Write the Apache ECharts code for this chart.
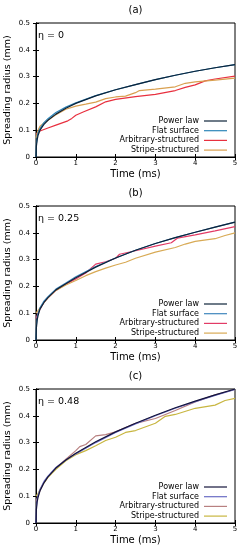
<!DOCTYPE html>
<html><head><meta charset="utf-8">
<script src="https://cdn.jsdelivr.net/npm/echarts@6/dist/echarts.min.js"></script>
<style>html,body{margin:0;padding:0;background:#fff;}.c{width:242px;height:183px;}</style>
</head><body>
<div id="a" class="c"></div><div id="b" class="c"></div><div id="c" class="c"></div>
<script>
// ---- data ----
var seriesNames = ['Power law','Flat surface','Arbitrary-structured','Stripe-structured'];
var xTicks = [0,1,2,3,4,5];
var yTicks = [0,0.1,0.2,0.3,0.4,0.5];

var tFit = [0,0.01,0.03,0.05,0.1,0.2,0.3,0.5,0.75,1,1.5,2,2.5,3,3.5,4,4.5,5];

// panel (a) eta = 0
var powerA = [0,0.04,0.065,0.08,0.1,0.122,0.137,0.16,0.182,0.2,0.228,0.251,0.27,0.289,0.305,0.32,0.333,0.345];
var flatA  = [0,0.05,0.075,0.09,0.106,0.128,0.143,0.166,0.186,0.202,0.229,0.251,0.27,0.289,0.305,0.32,0.333,0.345];
var arbTA  = [0,0.1,0.3,0.5,0.8,0.9,1,1.2,1.5,1.75,2,2.5,3,3.5,3.75,4,4.25,4.5,5];
var arbA   = [0.085,0.097,0.108,0.119,0.135,0.144,0.156,0.169,0.187,0.206,0.215,0.225,0.234,0.248,0.26,0.269,0.284,0.291,0.302];
var strTA  = [0,0.05,0.1,0.2,0.3,0.5,0.75,1,1.25,1.5,1.75,2,2.25,2.5,2.6,3,3.5,3.75,4,4.5,5];
var strA   = [0.07,0.1,0.115,0.127,0.137,0.158,0.178,0.19,0.197,0.205,0.218,0.224,0.227,0.24,0.248,0.253,0.262,0.275,0.28,0.287,0.294];

// panel (b) eta = 0.25
var powerB = [0,0.045,0.075,0.09,0.115,0.14,0.158,0.187,0.21,0.232,0.272,0.306,0.335,0.36,0.382,0.402,0.421,0.44];
var flatB  = [0,0.055,0.085,0.098,0.12,0.145,0.162,0.19,0.213,0.236,0.274,0.306,0.335,0.36,0.382,0.402,0.421,0.44];
var arbTB  = [0,0.05,0.1,0.2,0.3,0.5,0.75,1,1.25,1.5,1.75,2,2.1,2.5,3,3.4,3.55,4,4.5,5];
var arbB   = [0.08,0.1,0.115,0.14,0.157,0.185,0.208,0.228,0.25,0.283,0.292,0.305,0.32,0.333,0.35,0.363,0.38,0.392,0.407,0.423];
var strTB  = [0,0.05,0.1,0.2,0.3,0.5,0.75,1,1.25,1.5,1.75,2,2.25,2.5,3,3.5,3.75,4,4.5,4.75,5];
var strB   = [0.1,0.11,0.12,0.14,0.157,0.185,0.205,0.222,0.24,0.255,0.268,0.28,0.29,0.305,0.328,0.345,0.358,0.368,0.378,0.39,0.4];

// panel (c) eta = 0.48
var powerC = [0,0.05,0.08,0.095,0.12,0.15,0.172,0.205,0.235,0.26,0.303,0.34,0.372,0.402,0.43,0.455,0.478,0.5];
var flatC  = [0,0.06,0.09,0.103,0.125,0.155,0.175,0.207,0.235,0.258,0.3,0.338,0.37,0.4,0.428,0.453,0.476,0.498];
var arbTC  = [0,0.05,0.1,0.2,0.3,0.5,0.75,1,1.1,1.25,1.5,1.75,2,2.5,3,3.5,4,4.5,5];
var arbC   = [0.08,0.1,0.12,0.15,0.172,0.205,0.238,0.27,0.285,0.293,0.325,0.33,0.34,0.372,0.39,0.42,0.452,0.478,0.498];
var strTC  = [0,0.05,0.1,0.2,0.3,0.5,0.75,1,1.25,1.5,1.75,2,2.25,2.5,3,3.25,3.5,4,4.5,4.75,5];
var strC   = [0.1,0.11,0.125,0.15,0.17,0.2,0.232,0.255,0.27,0.288,0.308,0.32,0.338,0.345,0.372,0.398,0.405,0.428,0.44,0.457,0.465];

var panels = [
  {id:'a', title:'(a)', eta:'η = 0', colors:['#0d2238','#2d86b8','#e8303f','#d9a050'],
   data:[[tFit,powerA],[tFit,flatA],[arbTA,arbA],[strTA,strA]]},
  {id:'b', title:'(b)', eta:'η = 0.25', colors:['#0d2238','#3f86bd','#e23b66','#d8aa55'],
   data:[[tFit,powerB],[tFit,flatB],[arbTB,arbB],[strTB,strB]]},
  {id:'c', title:'(c)', eta:'η = 0.48', colors:['#14143a','#6a6cc4','#b88080','#c8b640'],
   data:[[tFit,powerC],[tFit,flatC],[arbTC,arbC],[strTC,strC]]}
];

function zip(t, v){ return t.map(function(x,i){ return [x, v[i]]; }); }
var FONT = 'DejaVu Sans';

panels.forEach(function(p){
  var chart = echarts.init(document.getElementById(p.id), null, {renderer:'canvas'});
  var grid = {left:36, right:7, top:23, height:134, containLabel:false, outerBoundsMode:'none',
              show:true, borderColor:'#000', borderWidth:1, backgroundColor:'transparent'};
  var tick = {show:true, inside:true, length:3, lineStyle:{color:'#000', width:1}};
  var series = seriesNames.map(function(n, i){
    return {
      name:n, type:'line', xAxisIndex:0, yAxisIndex:0,
      data: zip(p.data[i][0], p.data[i][1]),
      showSymbol:false, symbol:'none', smooth:false,
      z: i === 0 ? 5 : (i === 1 ? 4 : 3),
      lineStyle:{color:p.colors[i], width:1.2},
      itemStyle:{color:p.colors[i]},
      animation:false
    };
  });
  chart.setOption({
    animation:false,
    textStyle:{fontFamily:FONT},
    grid: grid,
    graphic:[
      {type:'text', x:135.5, y:5, style:{text:p.title, font:'10px "DejaVu Sans"', fill:'#000', textAlign:'center'}},
      {type:'text', x:38, y:31, style:{text:p.eta, font:'9.5px "DejaVu Sans"', fill:'#000'}}
    ],
    legend:{
      orient:'vertical', align:'right', right:15, top:117, padding:0,
      itemWidth:23, itemHeight:8, itemGap:1.7,
      icon:'path://M0,0L23,0L23,1.2L0,1.2Z',
      textStyle:{fontFamily:FONT, fontSize:8, color:'#000'},
      data: seriesNames,
      selectedMode:false
    },
    xAxis:[
      {type:'value', min:0, max:5, interval:1, position:'bottom',
       axisLine:{show:true, lineStyle:{color:'#000'}}, axisTick:tick, splitLine:{show:false},
       axisLabel:{fontFamily:FONT, fontSize:7, color:'#000', margin:3,
         formatter:function(v){ return xTicks.indexOf(v) >= 0 ? String(v) : ''; }},
       name:'Time (ms)', nameLocation:'middle', nameGap:12, nameMoveOverlap:false,
       nameTextStyle:{fontFamily:FONT, fontSize:10, color:'#000', verticalAlign:'top'}},
      {type:'value', min:0, max:5, interval:1, position:'top',
       axisLine:{show:true, lineStyle:{color:'#000'}}, axisTick:tick, splitLine:{show:false},
       axisLabel:{show:false}}
    ],
    yAxis:[
      {type:'value', min:0, max:0.5, interval:0.1, position:'left',
       axisLine:{show:true, lineStyle:{color:'#000'}}, axisTick:tick, splitLine:{show:false},
       axisLabel:{fontFamily:FONT, fontSize:7, color:'#000', margin:6,
         formatter:function(v){ var r = Math.round(v*10)/10; return yTicks.indexOf(r) >= 0 ? String(r) : ''; }},
       name:'Spreading radius (mm)', nameLocation:'middle', nameGap:28, nameRotate:90, nameMoveOverlap:false,
       nameTextStyle:{fontFamily:FONT, fontSize:9.5, color:'#000', verticalAlign:'middle', align:'center'}},
      {type:'value', min:0, max:0.5, interval:0.1, position:'right',
       axisLine:{show:true, lineStyle:{color:'#000'}}, axisTick:tick, splitLine:{show:false},
       axisLabel:{show:false}}
    ],
    series: series
  });
});
</script>
</body></html>
